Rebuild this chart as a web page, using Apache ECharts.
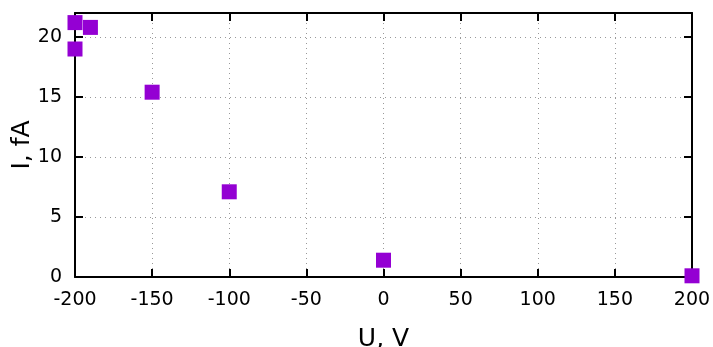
<!DOCTYPE html>
<html>
<head>
<meta charset="utf-8">
<script src="https://cdn.jsdelivr.net/npm/echarts@6/dist/echarts.min.js"></script>
<style>html,body{margin:0;padding:0;background:#fff}#c{width:713px;height:347px}</style>
</head>
<body>
<div id="c"></div>
<script>
const voltages = [-200, -200, -190, -150, -100, 0, 200];
const currents = [21.2, 19.0, 20.8, 15.4, 7.1, 1.4, 0.1];
const xTitle = 'U, V';
const yTitle = 'I, fA';

const chart = echarts.init(document.getElementById('c'));
const font = 'DejaVu Sans';
const lineStyle = {color: '#000', width: 2};
const axisLine = {show: true, onZero: false, lineStyle: lineStyle};
const gridLine = {show: true, lineStyle: {color: '#999', type: [1, 4], width: 1}};
chart.setOption({
  animation: false,
  backgroundColor: '#fff',
  grid: {left: 75, right: 21, top: 13, bottom: 70, containLabel: false, outerBoundsMode: 'none'},
  xAxis: [{
    type: 'value', min: -200, max: 200, interval: 50,
    name: xTitle, nameLocation: 'middle', nameGap: 50, nameMoveOverlap: false,
    nameTextStyle: {fontFamily: font, fontSize: 25, color: '#000'},
    axisLine: axisLine,
    axisTick: {show: true, inside: true, length: 8, lineStyle: lineStyle},
    axisLabel: {fontFamily: font, fontSize: 19, color: '#000', margin: 14},
    splitLine: gridLine
  }, {
    type: 'value', min: -200, max: 200, interval: 50, position: 'top',
    axisLine: axisLine,
    axisTick: {show: true, inside: true, length: 8, lineStyle: lineStyle},
    axisLabel: {show: false}, splitLine: {show: false}
  }],
  yAxis: [{
    type: 'value', min: 0, max: 22, interval: 5,
    name: yTitle, nameLocation: 'middle', nameGap: 40, nameMoveOverlap: false,
    nameTextStyle: {fontFamily: font, fontSize: 25, color: '#000'},
    axisLine: axisLine,
    axisTick: {show: true, inside: true, length: 8, lineStyle: lineStyle},
    axisLabel: {fontFamily: font, fontSize: 19, color: '#000', margin: 13, showMaxLabel: false},
    splitLine: gridLine
  }, {
    type: 'value', min: 0, max: 22, interval: 5, position: 'right',
    axisLine: axisLine,
    axisTick: {show: true, inside: true, length: 8, lineStyle: lineStyle},
    axisLabel: {show: false}, splitLine: {show: false}
  }],
  series: [{
    type: 'scatter',
    clip: false,
    symbol: 'rect',
    symbolSize: 15,
    itemStyle: {color: '#9400D3', opacity: 1},
    data: voltages.map((v, i) => [v, currents[i]]),
    z: 10
  }]
});
</script>
</body>
</html>
